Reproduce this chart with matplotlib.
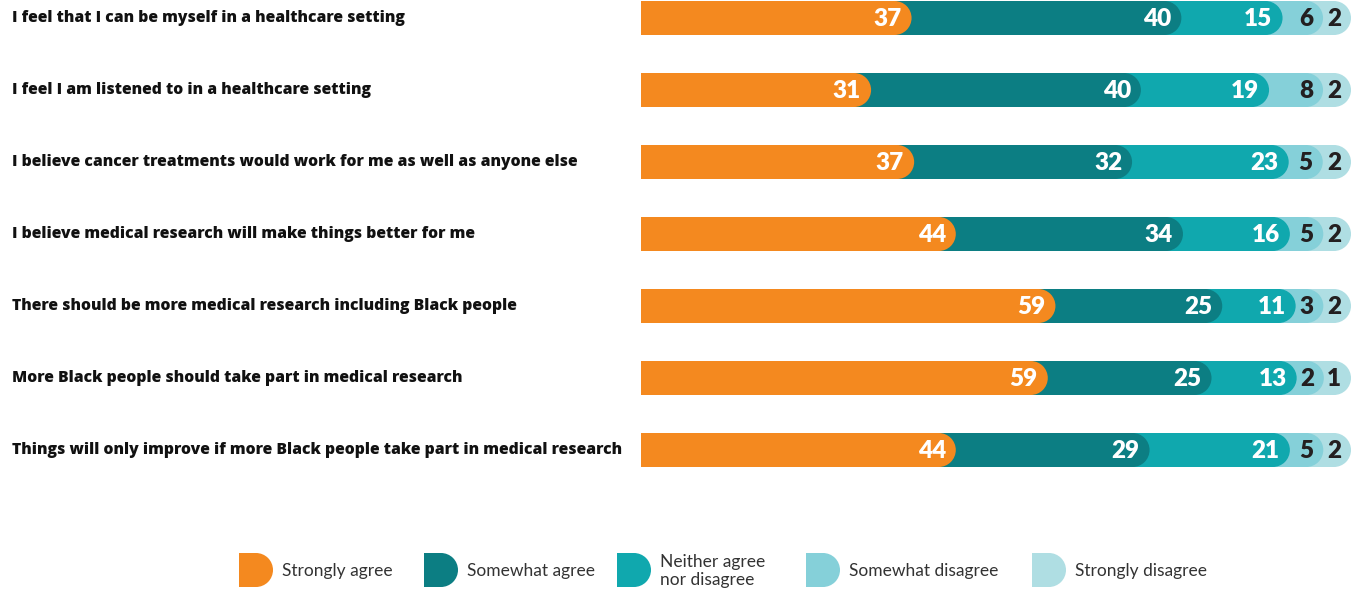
import matplotlib
matplotlib.use("Agg")
import matplotlib.pyplot as plt
from matplotlib.patches import Rectangle, Ellipse, Circle
from matplotlib.transforms import blended_transform_factory
import numpy as np

plt.rcParams['font.family'] = ['Lato', 'DejaVu Sans']

statements = [
    "I feel that I can be myself in a healthcare setting",
    "I feel I am listened to in a healthcare setting",
    "I believe cancer treatments would work for me as well as anyone else",
    "I believe medical research will make things better for me",
    "There should be more medical research including Black people",
    "More Black people should take part in medical research",
    "Things will only improve if more Black people take part in medical research",
]
categories = ["Strongly agree", "Somewhat agree", "Neither agree\nnor disagree",
              "Somewhat disagree", "Strongly disagree"]
strongly_agree = [37, 31, 37, 44, 59, 59, 44]
somewhat_agree = [40, 40, 32, 34, 25, 25, 29]
neither = [15, 19, 23, 16, 11, 13, 21]
somewhat_disagree = [6, 8, 5, 5, 3, 2, 5]
strongly_disagree = [2, 2, 2, 2, 2, 1, 2]

colors = ["#F4891F", "#0C7E83", "#10A8AE", "#85D0D9", "#AFDEE3"]
text_colors = ["white", "white", "white", "#231F20", "#231F20"]

series = [strongly_agree, somewhat_agree, neither, somewhat_disagree, strongly_disagree]

W, H, DPI = 1354, 591, 100
fig = plt.figure(figsize=(W / DPI, H / DPI), dpi=DPI)

ax_left_px = 641
ax = fig.add_axes([ax_left_px / W, 0, (W - ax_left_px) / W, 1])
k = 6.75                      # px per percentage point
xmax = (W - ax_left_px) / k
row_px = 72
first_center_px = 18
ax.set_xlim(0, xmax)
ax.set_ylim((H - first_center_px) / row_px, -first_center_px / row_px)
ax.axis("off")

bar_h_px = 34
bh = bar_h_px / row_px
rx = (bar_h_px / 2) / k
ry = bh / 2
track = 710 / k               # full bar length in data units
first_extra = 21 / k          # first segment's rounded cap offset
min_w = 28 / k                # minimum visible width of a segment

data = np.array(series, dtype=float)
n = len(statements)

# visible widths per row, normalised to fill the full track
ends = np.zeros_like(data)
for i in range(n):
    w = np.maximum(data[:, i], min_w)
    w[0] = data[0, i] + first_extra
    w = w * track / w.sum()
    ends[:, i] = np.cumsum(w)

for s in range(len(series) - 1, -1, -1):
    for i in range(n):
        end = ends[s, i]
        ax.add_patch(Rectangle((0, i - ry), end - rx, bh, facecolor=colors[s],
                               edgecolor="none", zorder=10 - s))
        ax.add_patch(Ellipse((end - rx, i), 2 * rx, 2 * ry, facecolor=colors[s],
                             edgecolor="none", zorder=10 - s))
        ax.text(end - 10 / k, i + 0.02, f"{int(data[s, i])}",
                ha="right", va="center", fontsize=17.5, fontweight="heavy",
                color=text_colors[s], zorder=20)

trans = blended_transform_factory(fig.transFigure, ax.transData)
for i, lab in enumerate(statements):
    ax.text(12 / W, i, lab, transform=trans, ha="left", va="center",
            fontsize=11.3, fontweight="heavy", color="#111111", clip_on=False,
            family=['Open Sans', 'DejaVu Sans'])

# legend
lg = fig.add_axes([0, 0, 1, 1], zorder=-1)
lg.set_xlim(0, W)
lg.set_ylim(H, 0)
lg.axis("off")
leg_x = [239, 424, 617, 806, 1032]
leg_y = 570
for kk, (lx, lab) in enumerate(zip(leg_x, categories)):
    lg.add_patch(Rectangle((lx, leg_y - 17), 17, 34, facecolor=colors[kk], edgecolor="none"))
    lg.add_patch(Circle((lx + 17, leg_y), 17, facecolor=colors[kk], edgecolor="none"))
    lg.text(lx + 43, leg_y + 1, lab, ha="left", va="center", fontsize=12.5,
            color="#333333", linespacing=1.2)

fig.savefig("out.png", dpi=DPI)
